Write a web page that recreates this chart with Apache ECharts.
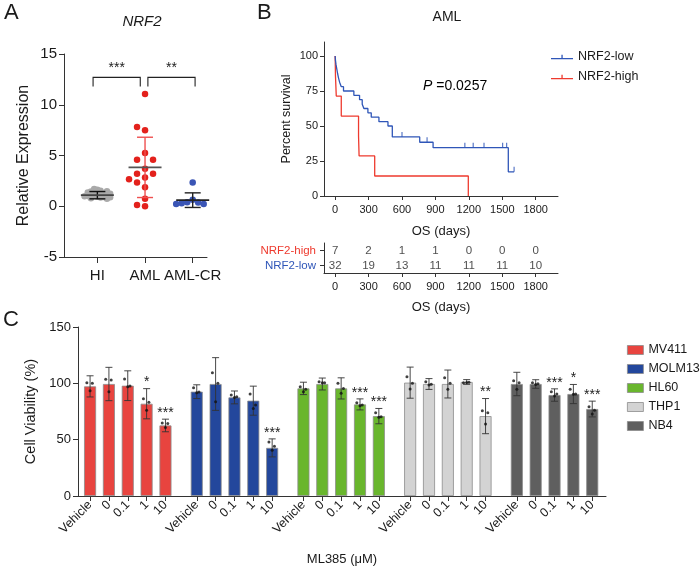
<!DOCTYPE html>
<html><head><meta charset="utf-8">
<script src="https://cdn.jsdelivr.net/npm/echarts@6/dist/echarts.min.js"></script>
<style>html,body{margin:0;padding:0;background:#fff}#c{width:700px;height:570px}</style>
</head><body><div id="c"></div>
<script>
// ================= DATA =================
// Panel A: NRF2 relative expression
const groupsA = ['HI', 'AML', 'AML-CR'];
const hiValues = [1.62, 1.70, 1.52, 1.45, 1.38, 1.30, 1.25, 1.18, 1.12, 1.05, 1.00, 0.95, 0.90, 0.85, 0.80, 0.74, 1.35, 1.10, 0.98, 1.22, 0.88, 1.48];
const amlValues = [11.06, 7.49, 7.82, 5.25, 4.59, 4.59, 3.70, 3.20, 3.20, 2.84, 2.67, 2.34, 1.88, 0.73, 0.00, 0.13];
const amlCrValues = [2.34, 0.63, 0.40, 0.36, 0.30, 0.23, 0.23];
const meanA = [1.09, 3.83, 0.60];
const sdA = [0.36, 2.97, 0.72];
const sigPairs = [[0, 1], [1, 2]];
const sigLabels = ['***', '**'];

// Panel B: Kaplan-Meier (time in days, percent survival)
const lowTimes = [0, 3, 8, 15, 22, 30, 40, 55, 75, 168, 219, 243, 258, 294, 324, 393, 474, 513, 759, 879, 1554, 1606];
const lowSurv  = [100, 96.9, 93.8, 90.6, 87.5, 84.4, 81.3, 78.1, 75.0, 71.9, 68.8, 65.6, 62.5, 59.4, 56.3, 53.1, 50.0, 42.2, 38.4, 34.5, 17.3, 17.3];
const lowCensorTimes = [600, 825, 1164, 1239, 1336, 1503, 1539, 1606];
const lowCensorSurv  = [42.2, 38.4, 34.5, 34.5, 34.5, 34.5, 34.5, 17.3];
const highTimes = [0, 3, 10, 55, 210, 215, 355, 1195];
const highSurv  = [100, 85.7, 71.4, 57.1, 42.9, 28.6, 14.3, 0];
const kmTicks = [0, 300, 600, 900, 1200, 1500, 1800];
const kmYTicks = [0, 25, 50, 75, 100];
const riskRows = ['NRF2-low', 'NRF2-high'];
const riskHigh = [7, 2, 1, 1, 0, 0, 0];
const riskLow  = [32, 19, 13, 11, 11, 11, 10];
const pText = '0.0257';

// Panel C: cell viability (%)
const cellLines = ['MV411', 'MOLM13', 'HL60', 'THP1', 'NB4'];
const doseLabels = ['Vehicle', '0', '0.1', '1', '10'];
const meanMV411  = [97.3, 99.4, 97.9, 81.9, 62.6];
const sdMV411    = [9.4, 14.8, 13.2, 13.4, 5.6];
const meanMOLM13 = [92.6, 99.4, 87.5, 84.6, 42.7];
const sdMOLM13   = [6.1, 23.4, 5.7, 12.9, 8.0];
const meanHL60   = [95.5, 99.4, 95.5, 81.3, 70.9];
const sdHL60     = [5.5, 5.3, 9.4, 4.9, 6.8];
const meanTHP1   = [100.6, 99.4, 99.4, 101.2, 70.9];
const sdTHP1     = [13.8, 4.8, 12.4, 2.1, 15.6];
const meanNB4    = [99.4, 99.4, 89.6, 90.5, 77.2];
const sdNB4      = [10.4, 3.8, 5.5, 8.5, 7.0];
const dotsMV411  = [[100.6, 100.0, 93.5], [103.6, 103.0, 92.6], [103.9, 97.6, 97.0], [86.3, 83.3, 76.2], [64.9, 64.3, 60.7]];
const dotsMOLM13 = [[96.0, 92.3, 91.7], [109.5, 100.0, 83.6], [89.6, 88.1, 87.5], [90.5, 80.7, 77.7], [48.0, 44.2, 40.6]];
const dotsHL60   = [[97.0, 94.7, 92.5], [101.4, 100.5, 100.5], [100.0, 95.5, 91.1], [82.7, 80.7, 80.0], [73.8, 70.3, 69.8]];
const dotsTHP1   = [[105.9, 100.0, 94.9], [101.4, 99.1, 98.5], [105.0, 100.0, 94.7], [100.5, 101.0, 100.8], [75.6, 73.8, 63.8]];
const dotsNB4    = [[102.3, 100.5, 94.7], [100.5, 99.6, 99.0], [92.5, 90.5, 88.7], [94.7, 90.5, 90.2], [79.2, 76.2, 72.7]];
const starsMV411  = ['', '', '', '*', '***'];
const starsMOLM13 = ['', '', '', '', '***'];
const starsHL60   = ['', '', '', '***', '***'];
const starsTHP1   = ['', '', '', '', '**'];
const starsNB4    = ['', '', '***', '*', '***'];

// ================= STYLE / LAYOUT =================
const FF = '"Liberation Sans", Arial, Helvetica, sans-serif';
const AX = '#333';
const TXT = '#1a1a1a';
const colorsA = ['#a9a9a9', '#e3211c', '#3a55b5'];
const meanLineColA = ['#444', '#555', '#222'];
const sdColA = ['#111', '#ef5050', '#222'];
const kmLow = '#2f56b8', kmHigh = '#ee3a2e';
const barColors = ['#e8443f', '#23479c', '#69b62d', '#d3d3d3', '#5f5f5f'];
const groupStep = 5.66;

const meansC = [meanMV411, meanMOLM13, meanHL60, meanTHP1, meanNB4];
const sdsC = [sdMV411, sdMOLM13, sdHL60, sdTHP1, sdNB4];
const dotsC = [dotsMV411, dotsMOLM13, dotsHL60, dotsTHP1, dotsNB4];
const starsC = [starsMV411, starsMOLM13, starsHL60, starsTHP1, starsNB4];
const xsC = [];
cellLines.forEach((c, g) => doseLabels.forEach((d, i) => xsC.push(g * groupStep + i)));

// beeswarm placement for panel A
function swarm(vals, gi, stepPx, sepPx) {
  const xu = 143 / 3, yu = 203 / 20;
  const placed = [], out = [];
  vals.forEach(v => {
    let dx = 0;
    for (let n = 0; n < 60; n++) {
      const cand = n === 0 ? 0 : (n % 2 ? -1 : 1) * Math.ceil(n / 2) * stepPx;
      if (placed.every(p => Math.hypot(p[0] - cand, (p[1] - v) * yu) >= sepPx)) { dx = cand; break; }
    }
    placed.push([dx, v]);
    out.push([gi + dx / xu, v]);
  });
  return out;
}

const axisBase = {
  axisLine: { show: true, onZero: false, lineStyle: { color: AX, width: 1 } },
  axisTick: { show: true, length: 5, lineStyle: { color: AX, width: 1 } },
  splitLine: { show: false },
};

function lineEl(x1, y1, x2, y2, color, w) {
  return { type: 'line', shape: { x1, y1, x2, y2 }, style: { stroke: color, lineWidth: w } };
}

// ---------- series ----------
const series = [];

// Panel A dots
[hiValues, amlValues, amlCrValues].forEach((vals, gi) => {
  const step = gi === 0 ? 3.2 : (gi === 1 ? 8 : 5.5);
  const sep = gi === 0 ? 3.2 : (gi === 1 ? 7 : 5.5);
  series.push({
    type: 'scatter', xAxisIndex: 0, yAxisIndex: 0, symbolSize: 6.5,
    itemStyle: { color: colorsA[gi], opacity: 1 },
    data: swarm(vals, gi, step, sep), z: 2
  });
});
// Panel A mean +/- SD
series.push({
  type: 'custom', xAxisIndex: 0, yAxisIndex: 0, z: 5,
  data: groupsA.map((g, i) => [i, meanA[i], sdA[i]]),
  renderItem(params, api) {
    const i = api.value(0), m = api.value(1), s = api.value(2);
    const c = api.coord([i, m]), t = api.coord([i, m + s]), b = api.coord([i, m - s]);
    const k = params.dataIndex;
    return { type: 'group', children: [
      lineEl(c[0], t[1], c[0], b[1], sdColA[k], 1.4),
      lineEl(c[0] - 8, t[1], c[0] + 8, t[1], sdColA[k], 1.4),
      lineEl(c[0] - 8, b[1], c[0] + 8, b[1], sdColA[k], 1.4),
      lineEl(c[0] - 16.5, c[1], c[0] + 16.5, c[1], meanLineColA[k], 1.8),
    ]};
  }
});
// Panel A significance brackets
series.push({
  type: 'custom', xAxisIndex: 0, yAxisIndex: 0, z: 5,
  data: sigPairs.map(p => [p[0], p[1]]),
  renderItem(params, api) {
    const a = api.value(0), b = api.value(1);
    const x1 = a + (a === 1 ? 0.06 : -0.09), x2 = b + (b === 1 ? -0.1 : 0.05);
    const p1 = api.coord([x1, 12.7]), p2 = api.coord([x2, 12.7]);
    const l1 = api.coord([x1, 11.8]);
    return { type: 'group', children: [
      { type: 'polyline', shape: { points: [[p1[0], l1[1]], p1, p2, [p2[0], l1[1]]] }, style: { stroke: '#222', lineWidth: 1.1, fill: null } },
      { type: 'text', style: { text: sigLabels[params.dataIndex], x: (p1[0] + p2[0]) / 2, y: p1[1] - 2,
        textAlign: 'center', textVerticalAlign: 'bottom', font: '14px ' + FF, fill: '#222' } }
    ]};
  }
});

// Panel B KM curves
series.push({
  name: 'NRF2-low', type: 'line', xAxisIndex: 1, yAxisIndex: 1, step: 'end', showSymbol: false,
  lineStyle: { color: kmLow, width: 1.3 }, itemStyle: { color: kmLow },
  data: lowTimes.map((t, i) => [t, lowSurv[i]]), z: 3
});
series.push({
  name: 'NRF2-high', type: 'line', xAxisIndex: 1, yAxisIndex: 1, step: 'end', showSymbol: false,
  lineStyle: { color: kmHigh, width: 1.3 }, itemStyle: { color: kmHigh },
  data: highTimes.map((t, i) => [t, highSurv[i]]), z: 2
});
series.push({
  name: 'low-censored', type: 'scatter', xAxisIndex: 1, yAxisIndex: 1,
  symbol: 'rect', symbolSize: [1.2, 5], symbolOffset: [0, -2.5],
  itemStyle: { color: kmLow }, data: lowCensorTimes.map((t, i) => [t, lowCensorSurv[i]]), z: 4
});
// At-risk table
[[riskHigh, 'NRF2-high'], [riskLow, 'NRF2-low']].forEach(([arr, row]) => {
  series.push({
    type: 'scatter', xAxisIndex: 2, yAxisIndex: 2, symbolSize: 1,
    itemStyle: { color: 'rgba(0,0,0,0)' },
    label: { show: true, position: 'inside', formatter: p => String(p.value[2]), color: '#222', fontSize: 11.5, fontFamily: FF },
    data: kmTicks.map((t, i) => [t, row, arr[i]])
  });
});

// Panel C bars
cellLines.forEach((name, g) => {
  series.push({
    name, type: 'bar', xAxisIndex: 3, yAxisIndex: 3, barWidth: 12, barGap: '-100%',
    itemStyle: { color: barColors[g], borderColor: '#8c8c8c', borderWidth: 0.8 },
    data: meansC[g].map((m, i) => [g * groupStep + i, m]), z: 2
  });
});
// Panel C error bars
const errC = [];
cellLines.forEach((c, g) => meansC[g].forEach((m, i) => errC.push([g * groupStep + i, m, sdsC[g][i]])));
series.push({
  type: 'custom', xAxisIndex: 3, yAxisIndex: 3, z: 4, data: errC,
  renderItem(params, api) {
    const x = api.value(0), m = api.value(1), s = api.value(2);
    const t = api.coord([x, m + s]), b = api.coord([x, m - s]);
    return { type: 'group', children: [
      lineEl(t[0], t[1], t[0], b[1], '#333', 0.9),
      lineEl(t[0] - 3.5, t[1], t[0] + 3.5, t[1], '#333', 0.9),
      lineEl(t[0] - 3.5, b[1], t[0] + 3.5, b[1], '#333', 0.9),
    ]};
  }
});
// Panel C replicate dots
const dotOff = [-0.17, 0.12, 0.0];
const dotData = [];
cellLines.forEach((c, g) => dotsC[g].forEach((arr, i) => arr.forEach((v, r) => dotData.push([g * groupStep + i + dotOff[r], v]))));
series.push({
  type: 'scatter', xAxisIndex: 3, yAxisIndex: 3, symbolSize: 3, z: 5,
  itemStyle: { color: '#111' }, data: dotData
});
// Panel C stars
const starItems = [];
cellLines.forEach((c, g) => starsC[g].forEach((s, i) => { if (s) starItems.push({ x: g * groupStep + i, top: meansC[g][i] + sdsC[g][i], text: s }); }));
series.push({
  type: 'custom', xAxisIndex: 3, yAxisIndex: 3, z: 6,
  data: starItems.map(s => [s.x, s.top]),
  renderItem(params, api) {
    const p = api.coord([api.value(0), api.value(1)]);
    return { type: 'text', style: { text: starItems[params.dataIndex].text, x: p[0], y: p[1] + 1,
      textAlign: 'center', textVerticalAlign: 'bottom', font: '14px ' + FF, fill: '#222' } };
  }
});

const numFmt = v => String(v);

const option = {
  animation: false,
  backgroundColor: '#fff',
  textStyle: { fontFamily: FF },
  grid: [
    { left: 64, top: 54, width: 143, height: 203 },
    { left: 324, top: 42, width: 234, height: 154 },
    { left: 324, top: 243, width: 234, height: 30 },
    { left: 78, top: 327, width: 528, height: 169 },
  ],
  xAxis: [
    Object.assign({}, axisBase, { gridIndex: 0, type: 'value', min: -0.7, max: 2.3,
      axisTick: { show: true, length: 6, customValues: [0, 1, 2], lineStyle: { color: AX } },
      axisLabel: { customValues: [0, 1, 2], formatter: v => groupsA[Math.round(v)], fontSize: 15, color: TXT, margin: 11, fontFamily: FF } }),
    Object.assign({}, axisBase, { gridIndex: 1, type: 'value', min: -100, max: 2000,
      axisTick: { show: true, length: 4, customValues: kmTicks, lineStyle: { color: AX } },
      axisLabel: { customValues: kmTicks, formatter: numFmt, fontSize: 11, color: TXT, margin: 8, fontFamily: FF },
      name: 'OS (days)', nameLocation: 'middle', nameGap: 29, nameTextStyle: { fontSize: 13, color: TXT, fontFamily: FF } }),
    Object.assign({}, axisBase, { gridIndex: 2, type: 'value', min: -100, max: 2000,
      axisTick: { show: true, length: 4, customValues: kmTicks, lineStyle: { color: AX } },
      axisLabel: { customValues: kmTicks, formatter: numFmt, fontSize: 11, color: TXT, margin: 8, fontFamily: FF },
      name: 'OS (days)', nameLocation: 'middle', nameGap: 28, nameTextStyle: { fontSize: 13, color: TXT, fontFamily: FF } }),
    Object.assign({}, axisBase, { gridIndex: 3, type: 'value', min: -0.64, max: 27.37,
      axisTick: { show: true, length: 5, customValues: xsC, lineStyle: { color: AX } },
      axisLabel: { customValues: xsC, rotate: 45, fontSize: 12.5, color: TXT, margin: 7, fontFamily: FF,
        formatter: v => { const i = xsC.findIndex(p => Math.abs(p - v) < 1e-6); return i < 0 ? '' : doseLabels[i % 5]; } },
      name: 'ML385 (μM)', nameLocation: 'middle', nameGap: 57, nameTextStyle: { fontSize: 13, color: TXT, fontFamily: FF } }),
  ],
  yAxis: [
    Object.assign({}, axisBase, { gridIndex: 0, type: 'value', min: -5, max: 15, interval: 5,
      axisLabel: { fontSize: 15, color: TXT, margin: 7, fontFamily: FF },
      name: 'Relative Expression', nameLocation: 'middle', nameGap: 32, nameRotate: 90,
      nameTextStyle: { fontSize: 16, color: TXT, fontFamily: FF } }),
    Object.assign({}, axisBase, { gridIndex: 1, type: 'value', min: 0, max: 110,
      axisTick: { show: true, length: 4, customValues: kmYTicks, lineStyle: { color: AX } },
      axisLabel: { customValues: kmYTicks, fontSize: 11, color: TXT, margin: 6, fontFamily: FF },
      name: 'Percent survival', nameLocation: 'middle', nameGap: 31, nameRotate: 90,
      nameTextStyle: { fontSize: 12.5, color: TXT, fontFamily: FF } }),
    Object.assign({}, axisBase, { gridIndex: 2, type: 'category', data: riskRows,
      axisTick: { show: true, length: 4, alignWithLabel: true, interval: 0, lineStyle: { color: AX } },
      axisLabel: { interval: 0, fontSize: 11.5, margin: 8, fontFamily: FF,
        formatter: v => (v === 'NRF2-high' ? '{h|' + v + '}' : '{l|' + v + '}'),
        rich: { h: { color: kmHigh, fontSize: 11.5, fontFamily: FF }, l: { color: kmLow, fontSize: 11.5, fontFamily: FF } } } }),
    Object.assign({}, axisBase, { gridIndex: 3, type: 'value', min: 0, max: 150, interval: 50,
      axisLabel: { fontSize: 13, color: TXT, margin: 7, fontFamily: FF },
      name: 'Cell Viability (%)', nameLocation: 'middle', nameGap: 38, nameRotate: 90,
      nameTextStyle: { fontSize: 14.5, color: TXT, fontFamily: FF } }),
  ],
  legend: [
    { data: ['NRF2-low', 'NRF2-high'], left: 546, top: 45, orient: 'vertical',
      itemWidth: 22, itemHeight: 8, itemGap: 6,
      icon: 'path://M0,5.4h22v1.3H0z M10.4,2h1.3v3.6h-1.3z',
      textStyle: { fontSize: 12.5, color: TXT, fontFamily: FF, lineHeight: 14 } },
    { data: cellLines, left: 622, top: 338, orient: 'vertical', icon: 'rect',
      itemWidth: 16, itemHeight: 9, itemGap: 5, itemStyle: { borderColor: '#8c8c8c', borderWidth: 0.8 },
      textStyle: { fontSize: 12.5, color: TXT, fontFamily: FF, lineHeight: 14 } },
  ],
  graphic: [
    { type: 'text', style: { text: 'A', x: 4, y: 13, font: '22px ' + FF, fill: TXT, textVerticalAlign: 'middle' } },
    { type: 'text', style: { text: 'B', x: 257, y: 13, font: '22px ' + FF, fill: TXT, textVerticalAlign: 'middle' } },
    { type: 'text', style: { text: 'C', x: 3, y: 320, font: '22px ' + FF, fill: TXT, textVerticalAlign: 'middle' } },
    { type: 'text', style: { text: 'NRF2', x: 142, y: 22, font: 'italic 15px ' + FF, fill: TXT, textAlign: 'center', textVerticalAlign: 'middle' } },
    { type: 'text', style: { text: 'AML', x: 447, y: 17, font: '14px ' + FF, fill: TXT, textAlign: 'center', textVerticalAlign: 'middle' } },
    { type: 'text', style: { text: '{i|P}{n| =' + pText + '}', x: 423, y: 86, textVerticalAlign: 'middle',
      rich: { i: { fontStyle: 'italic', fontSize: 14, fontFamily: FF, color: TXT }, n: { fontSize: 14, fontFamily: FF, color: TXT } } } },
  ],
  series
};

const chart = echarts.init(document.getElementById('c'), null, { renderer: 'canvas' });
chart.setOption(option);
</script>
</body></html>
